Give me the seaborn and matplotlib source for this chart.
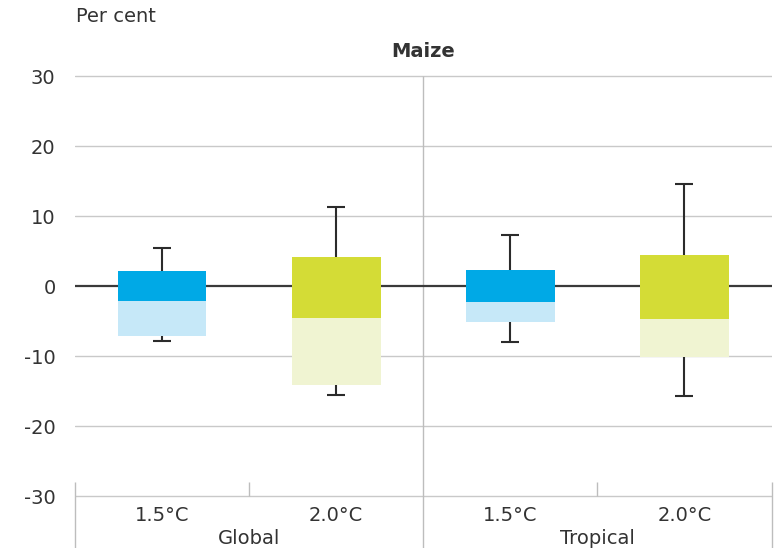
import numpy as np
import pandas as pd
import matplotlib
matplotlib.use("Agg")
import matplotlib.pyplot as plt
import seaborn as sns

# Projected maize yield change (per cent), box summaries per region and warming level
regions = ["Global", "Global", "Tropical", "Tropical"]
warming = ["1.5°C", "2.0°C", "1.5°C", "2.0°C"]
upper_quartile = [2.1, 4.1, 2.3, 4.5]
median = [-2.2, -4.5, -2.3, -4.7]
lower_quartile = [-7.1, -14.2, -5.1, -10.1]
whisker_high = [5.5, 11.3, 7.3, 14.6]
whisker_low = [-7.8, -15.5, -8.0, -15.7]
y_ticks = [30, 20, 10, 0, -10, -20, -30]
region_names = ["Global", "Tropical"]

dark_colors = {"1.5°C": "#00A9E6", "2.0°C": "#D4DC36"}
light_colors = {"1.5°C": "#C6E8F8", "2.0°C": "#F0F4D2"}

df = pd.DataFrame({
    "region": regions,
    "warming": warming,
    "q3": upper_quartile,
    "med": median,
    "q1": lower_quartile,
    "hi": whisker_high,
    "lo": whisker_low,
})
df["slot"] = df["region"] + " " + df["warming"]
df["upper_span"] = df["q3"] - df["med"]
df["lower_span"] = df["med"] - df["q1"]

sns.set_theme(style="white")
plt.rcParams["font.family"] = ["DejaVu Sans"]

W, H = 777, 548
fig = plt.figure(figsize=(W / 100, H / 100), dpi=100)
ax_left, ax_right, ax_top = 75, 771.5, 69
ax = fig.add_axes([ax_left / W, 0, (ax_right - ax_left) / W, (H - ax_top) / H])

y_top = 31.0
y_bottom = y_top - (H - ax_top) / 7.0
order = list(df["slot"])
box_width = 0.51
fs = 14

# Gridlines and the zero reference line
grid_color = "#c9c9c9"
for v in y_ticks:
    if v != 0:
        ax.axhline(v, color=grid_color, lw=1.0, zorder=0)
ax.axhline(0, color="#3a3a3a", lw=1.6, zorder=1)

# Upper half of each box (median to upper quartile)
sns.barplot(data=df, x="slot", y="upper_span", order=order, bottom=df["med"].values,
            color="#000000", facecolor=[dark_colors[w] for w in df["warming"]],
            linewidth=0, saturation=1, errorbar=None, width=box_width, ax=ax, zorder=2)
# Lower half of each box (lower quartile to median)
sns.barplot(data=df, x="slot", y="lower_span", order=order, bottom=df["q1"].values,
            color="#000000", facecolor=[light_colors[w] for w in df["warming"]],
            linewidth=0, saturation=1, errorbar=None, width=box_width, ax=ax, zorder=2)

# Whiskers and caps
pos = np.arange(len(df))
cap = 0.052
wcol = "#2b2b2b"
ax.vlines(pos, df["q3"], df["hi"], color=wcol, lw=1.5, zorder=3)
ax.vlines(pos, df["lo"], df["q1"], color=wcol, lw=1.5, zorder=3)
ax.hlines(df["hi"], pos - cap, pos + cap, color=wcol, lw=1.5, zorder=3)
ax.hlines(df["lo"], pos - cap, pos + cap, color=wcol, lw=1.5, zorder=3)

ax.set_xlim(-0.5, len(df) - 0.5)
ax.set_ylim(y_bottom, y_top)

# Group divider and category frame at the bottom
line_gray = "#bdbdbd"
ax.vlines(1.5, y_bottom, 30, color=line_gray, lw=1.0, zorder=0)
ax.vlines([-0.5, 3.5], y_bottom, -28, color=line_gray, lw=1.0, zorder=0, clip_on=False)
ax.vlines([0.5, 2.5], -30, -28, color=line_gray, lw=1.0, zorder=0)

# Axis labels
ax.set_xticks([])
ax.set_xlabel("")
ax.set_ylabel("")
ax.set_yticks(y_ticks)
ax.set_yticklabels([str(v) for v in y_ticks])
ax.tick_params(axis="y", length=0, pad=14, labelsize=fs, labelcolor="#333333")
for s in ax.spines.values():
    s.set_visible(False)

text_color = "#333333"
for i, w in enumerate(df["warming"]):
    ax.text(i, -32.85, w, ha="center", va="center", fontsize=fs, color=text_color)
for j, r in enumerate(region_names):
    ax.text(2 * j + 0.5, -36.0, r, ha="center", va="center", fontsize=fs, color=text_color)

fig.text(76 / W, 1 - 17 / H, "Per cent", ha="left", va="center", fontsize=fs, color=text_color)
fig.text(423.3 / W, 1 - 51.7 / H, "Maize", ha="center", va="center", fontsize=fs,
         fontweight="bold", color=text_color)

fig.savefig("out.png", dpi=100, facecolor="white")
